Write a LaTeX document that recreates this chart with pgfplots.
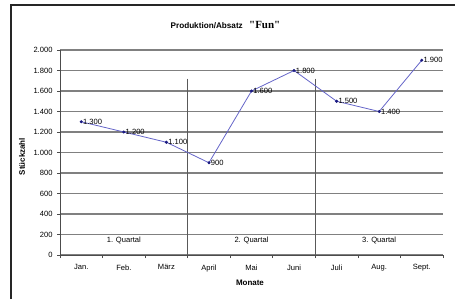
\documentclass[border=0pt]{standalone}
\usepackage{pgfplots}
\pgfplotsset{compat=1.18}
\usepackage{fontspec}
\setmainfont{Liberation Sans}
\newfontfamily\serifb{Liberation Serif}
\definecolor{linec}{HTML}{6464C8}
\definecolor{markc}{HTML}{1A1A80}
\begin{document}
\begin{tikzpicture}[x=1bp,y=1bp]
\useasboundingbox (0,0) rectangle (455,299);
\draw[line width=1.2bp, black!85] (11,0) -- (11,294) -- (455,294);
\node[font=\bfseries\fontsize{8.2}{9}\selectfont, anchor=base east, inner sep=0pt] at (243,271) {Produktion/Absatz};
\node[font=\serifb\bfseries\fontsize{11}{12}\selectfont, anchor=base west, inner sep=0pt] at (249,271) {"Fun"};
\begin{axis}[
  at={(60bp,44bp)}, anchor=south west,
  scale only axis, width=383bp, height=205bp,
  xmin=0, xmax=9, ymin=0, ymax=2000,
  axis x line*=bottom, axis y line*=left,
  axis line style={black!70, line width=0.7pt},
  tick align=outside, major tick length=3bp,
  tick style={black!70, line width=0.6pt},
  xtick={0,...,9},
  xticklabels={Jan.,Feb.,März,April,Mai,Juni,Juli,Aug.,Sept.,},
  xticklabel style={xshift=21.28bp, font=\fontsize{7.6}{8}\selectfont, yshift=-3bp},
  ytick={0,200,...,2000},
  yticklabel style={font=\fontsize{7.6}{8}\selectfont, xshift=-1bp},
  /pgf/number format/.cd, 1000 sep={.}, assume math mode=true, /pgfplots/.cd,
  ymajorgrids, grid style={black!50, line width=1.2bp},
  xlabel={Monate}, ylabel={Stückzahl},
  xlabel style={font=\bfseries\fontsize{8}{9}\selectfont, at={(axis description cs:0.496,-0.137)}, anchor=center},
  ylabel style={font=\bfseries\fontsize{8}{9}\selectfont, at={(axis description cs:-0.099,0.48)}, anchor=center, rotate=0},
  clip=false,
]
\draw[black!65, line width=1bp] (axis cs:3,1720) -- (axis cs:3,0);
\draw[black!65, line width=1bp] (axis cs:6,1720) -- (axis cs:6,0);
\node[font=\fontsize{7.6}{8}\selectfont] at (axis cs:1.5,140) {1. Quartal};
\node[font=\fontsize{7.6}{8}\selectfont] at (axis cs:4.5,140) {2. Quartal};
\node[font=\fontsize{7.6}{8}\selectfont] at (axis cs:7.5,140) {3. Quartal};
\addplot[color=linec, line width=0.8pt, mark=*, mark size=1.1pt,
  mark options={fill=markc, draw=markc},
  nodes near coords,
  every node near coord/.append style={anchor=west, font=\fontsize{7.6}{8}\selectfont, text=black, inner sep=1.5bp, /pgf/number format/1000 sep={.}}]
coordinates {
(0.5,1300) (1.5,1200) (2.5,1100) (3.5,900) (4.5,1600) (5.5,1800) (6.5,1500) (7.5,1400) (8.5,1900)
};
\end{axis}
\end{tikzpicture}
\end{document}
